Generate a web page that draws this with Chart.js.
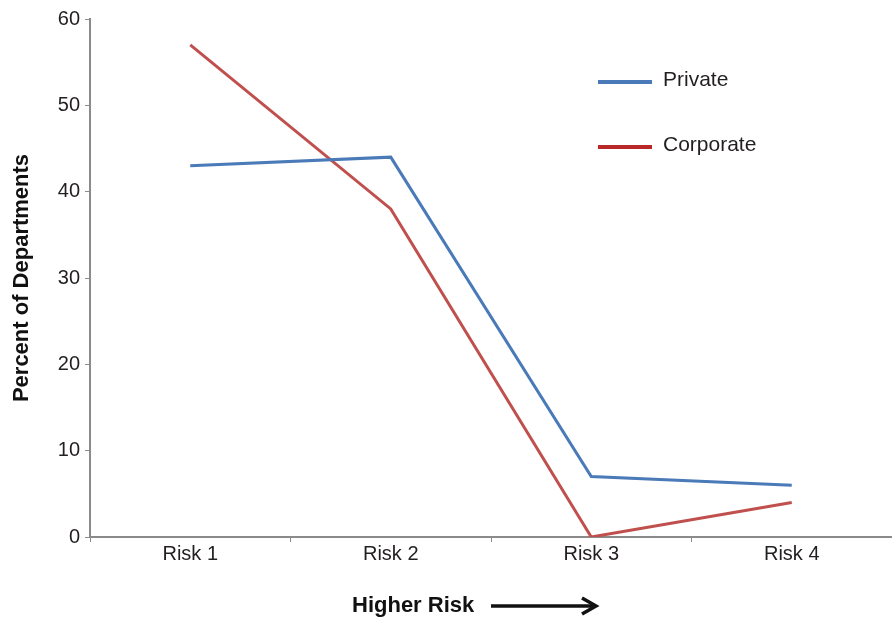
<!DOCTYPE html>
<html>
<head>
<meta charset="utf-8">
<script src="https://cdn.jsdelivr.net/npm/chart.js@4/dist/chart.umd.min.js"></script>
<style>
  html, body { margin: 0; padding: 0; background: #fff; }
  #wrap { width: 892px; height: 620px; position: relative; }
</style>
</head>
<body>
<div id="wrap"><canvas id="c" width="892" height="620"></canvas></div>
<script>
// Risk categories and share of departments (%) in each
const categories = ['Risk 1', 'Risk 2', 'Risk 3', 'Risk 4'];
const privateValues = [43, 44, 7, 6];
const corporateValues = [57, 38, 0, 4];
const yTicks = [0, 10, 20, 30, 40, 50, 60];

const FONT = '"Liberation Sans", Arial, Helvetica, sans-serif';
const TEXT = '#231f20';
const AXIS = '#8a8a8a';

// Legend drawn inside the plot area, one entry per dataset
const insideLegend = {
  id: 'insideLegend',
  afterDatasetsDraw(chart) {
    const ctx = chart.ctx;
    ctx.save();
    chart.data.datasets.forEach((ds, i) => {
      const y = 82 + i * 65;
      ctx.strokeStyle = ds.legendColor || ds.borderColor;
      ctx.lineWidth = 4;
      ctx.beginPath();
      ctx.moveTo(598, y);
      ctx.lineTo(652, y);
      ctx.stroke();
      ctx.fillStyle = TEXT;
      ctx.font = '21px ' + FONT;
      ctx.textBaseline = 'middle';
      ctx.textAlign = 'left';
      ctx.fillText(ds.label, 663, y - 2);
    });
    ctx.restore();
  }
};

// "Higher Risk" caption with an arrow under the category axis
const riskCaption = {
  id: 'riskCaption',
  afterDraw(chart) {
    const ctx = chart.ctx;
    ctx.save();
    ctx.fillStyle = '#111';
    ctx.font = 'bold 22px ' + FONT;
    ctx.textBaseline = 'middle';
    ctx.textAlign = 'left';
    ctx.fillText('Higher Risk', 352, 606);
    ctx.strokeStyle = '#111';
    ctx.lineWidth = 3.5;
    ctx.beginPath();
    ctx.moveTo(491, 606);
    ctx.lineTo(595, 606);
    ctx.stroke();
    ctx.lineWidth = 3.5;
    ctx.lineJoin = 'miter';
    ctx.beginPath();
    ctx.moveTo(582, 598);
    ctx.lineTo(596, 606);
    ctx.lineTo(582, 614);
    ctx.stroke();
    ctx.restore();
  }
};

new Chart(document.getElementById('c'), {
  type: 'line',
  data: {
    labels: categories,
    datasets: [
      {
        label: 'Private',
        data: privateValues,
        borderColor: '#4a7ab8',
        legendColor: '#4a7ab8',
        borderWidth: 3,
        pointRadius: 0,
        tension: 0,
        fill: false
      },
      {
        label: 'Corporate',
        data: corporateValues,
        borderColor: '#c0504d',
        legendColor: '#b92828',
        borderWidth: 3,
        pointRadius: 0,
        tension: 0,
        fill: false
      }
    ]
  },
  options: {
    responsive: false,
    maintainAspectRatio: false,
    animation: false,
    devicePixelRatio: 1,
    layout: { padding: { top: 19, right: 0, bottom: 0, left: 0 } },
    plugins: {
      legend: { display: false },
      tooltip: { enabled: false }
    },
    scales: {
      x: {
        offset: true,
        border: { display: true, color: AXIS, width: 2 },
        grid: {
          offset: true,
          drawOnChartArea: false,
          drawTicks: true,
          tickLength: 5,
          color: AXIS,
          lineWidth: 1
        },
        ticks: {
          color: TEXT,
          font: { family: FONT, size: 20 },
          padding: 0,
          maxRotation: 0
        },
        afterFit(scale) { scale.height = 83; }
      },
      y: {
        min: yTicks[0],
        max: yTicks[yTicks.length - 1],
        afterBuildTicks(scale) { scale.ticks = yTicks.map(v => ({ value: v })); },
        border: { display: true, color: AXIS, width: 2 },
        grid: {
          drawOnChartArea: false,
          drawTicks: true,
          tickLength: 5,
          color: AXIS,
          lineWidth: 1
        },
        ticks: {
          autoSkip: false,
          color: TEXT,
          font: { family: FONT, size: 20 },
          padding: 5
        },
        title: {
          display: true,
          text: 'Percent of Departments',
          color: '#111',
          font: { family: FONT, size: 22, weight: 'bold' },
          padding: { top: 9, bottom: 0 }
        },
        afterFit(scale) { scale.width = 90; }
      }
    }
  },
  plugins: [insideLegend, riskCaption]
});
</script>
</body>
</html>
